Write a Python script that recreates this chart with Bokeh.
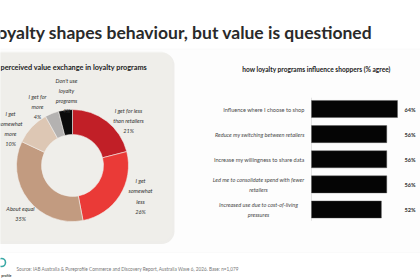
import numpy as np
from bokeh.plotting import figure
from bokeh.models import Range1d, ColumnDataSource, BoxAnnotation
from bokeh.core.properties import value
from bokeh.embed import file_html
from bokeh.resources import INLINE

# ---- data ----
segments = ["I get for less than retailers", "I get somewhat less", "About equal",
            "I get somewhat more", "I get for more", "Don't use loyalty programs"]
segment_labels = ["I get for less\nthan retailers", "I get\nsomewhat\nless", "About equal",
                  "I get\nsomewhat\nmore", "I get for\nmore", "Don't use\nloyalty\nprograms"]
shares = [21, 26, 35, 10, 4, 4]
segment_colors = ["#c11f27", "#ea3a37", "#c29b80", "#ddc7b4", "#b4b2b1", "#0b0b0b"]

statements = ["Influence where I choose to shop",
              "Reduce my switching between retailers",
              "Increase my willingness to share data",
              "Led me to consolidate spend with fewer\nretailers",
              "Increased use due to cost-of-living\npressures"]
agree = [64, 56, 56, 56, 52]

W, H = 420, 280
FONT = value("Lato")


def Y(s):
    # top-down pixel position -> data y
    return H - s


p = figure(width=W, height=H, x_range=Range1d(0, W), y_range=Range1d(0, H),
           output_backend="svg", toolbar_location=None, min_border=0,
           x_axis_location=None, y_axis_location=None, background_fill_color="white",
           border_fill_color="white")
p.outline_line_color = None
p.xgrid.visible = False
p.ygrid.visible = False

# ranges for the bar panel: percent along x, row index along y (top row first)
px_per_pct = 86 / 64
p.extra_x_ranges = {"pct": Range1d(start=-311 / px_per_pct, end=(W - 311) / px_per_pct)}
row0, row_step = 108.5, 25.125
p.extra_y_ranges = {"rows": Range1d(start=(H - row0) / row_step, end=-row0 / row_step)}

# ---- backgrounds ----
p.add_layout(BoxAnnotation(left=-5, right=W + 5, top=Y(48.5), bottom=Y(252),
                           fill_color="#fbfbfb", line_color="#f1f1f1", line_width=1,
                           level="underlay"))
p.add_layout(BoxAnnotation(left=-30, right=174, top=Y(52), bottom=Y(243.5),
                           fill_color="#e7e5e1", fill_alpha=0.7, line_color=None,
                           border_radius=13, level="underlay"))
p.add_layout(BoxAnnotation(left=-30, right=172, top=Y(51), bottom=Y(241),
                           fill_color="#f1efeb", line_color=None,
                           border_radius=12, level="underlay"))

# ---- headline ----
p.text(x=[372], y=[Y(31.5)], text=["Loyalty shapes behaviour, but value is questioned"],
       text_font=FONT, text_font_style="bold", text_font_size="17.5px",
       text_color="#2a2a2a", text_align="right", text_baseline="middle")

# ---- donut ----
frac = np.array(shares, dtype=float) / sum(shares)
cum = np.concatenate([[0], np.cumsum(frac)])
start = np.pi / 2 - 2 * np.pi * cum[:-1]
end = np.pi / 2 - 2 * np.pi * cum[1:]
donut = ColumnDataSource(dict(seg=segments, start=start, end=end, color=segment_colors))
p.annular_wedge(x=72, y=Y(165), inner_radius=31, outer_radius=56,
                start_angle="start", end_angle="end", direction="clock",
                fill_color="color", line_color="#f1efeb", line_width=0.6, source=donut)

p.text(x=[0], y=[Y(67)], text=["perceived value exchange in loyalty programs"],
       text_font=FONT, text_font_style="bold", text_font_size="7.3px",
       text_color="#222222", text_align="left", text_baseline="middle")

lab_x = [128, 140, 20, 10, 37, 66]
lab_y = [Y(120), Y(195.5), Y(213), Y(128), Y(106), Y(95)]
lab_text = [f"{t}\n{v}%" for t, v in zip(segment_labels, shares)]
p.text(x=lab_x, y=lab_y, text=lab_text, text_font=FONT, text_font_style="italic",
       text_font_size="5.6px", text_color="#333333", text_align="center",
       text_baseline="middle", text_line_height=1.45)

# ---- bars ----
idx = list(range(len(statements)))
bars = ColumnDataSource(dict(
    row=idx, agree=agree, stmt=statements,
    lx=[304 if "\n" not in s else 258 for s in statements],
    align=["right" if "\n" not in s else "center" for s in statements],
    style=["normal", "italic", "normal", "italic", "italic"],
    val=[f"{v}%" for v in agree]))

p.segment(x0=0, x1=0, y0=-0.45, y1=len(statements) - 0.55, line_color="#dddddd",
          line_width=0.8, x_range_name="pct", y_range_name="rows")
p.hbar(y="row", left=0, right="agree", height=0.68, fill_color="#050505",
       line_color="#555555", line_width=0.4, source=bars,
       x_range_name="pct", y_range_name="rows")

p.text(x="lx", y="row", text="stmt", text_align="align", text_font_style="style",
       text_font=FONT, text_font_size="5.6px", text_color="#4a4a4a",
       text_baseline="middle", text_line_height=1.35, source=bars, y_range_name="rows")
p.text(x=404, y="row", text="val", text_font=FONT, text_font_style="bold",
       text_font_size="5.6px", text_color="#333333", text_align="left",
       text_baseline="middle", source=bars, y_range_name="rows")

p.text(x=[316], y=[Y(68)], text=["how loyalty programs influence shoppers (% agree)"],
       text_font=FONT, text_font_style="bold", text_font_size="6.6px",
       text_color="#222222", text_align="center", text_baseline="middle")

# ---- footer ----
p.circle(x=[1], y=[Y(262)], radius=4, fill_color=None, line_color="#3aa9a6",
         line_width=1.6)
p.text(x=[11], y=[Y(275)], text=["profile"], text_font=FONT, text_font_style="bold",
       text_font_size="3.6px", text_color="#444444", text_align="right",
       text_baseline="middle")
p.text(x=[16], y=[Y(268)],
       text=["Source: IAB Australia & Pureprofile Commerce and Discovery Report,  "
             "Australia Wave 6, 2026. Base: n=1,079"],
       text_font=FONT, text_font_size="4.7px", text_color="#777777",
       text_align="left", text_baseline="middle")

open("out.html", "w").write(file_html(p, INLINE))
